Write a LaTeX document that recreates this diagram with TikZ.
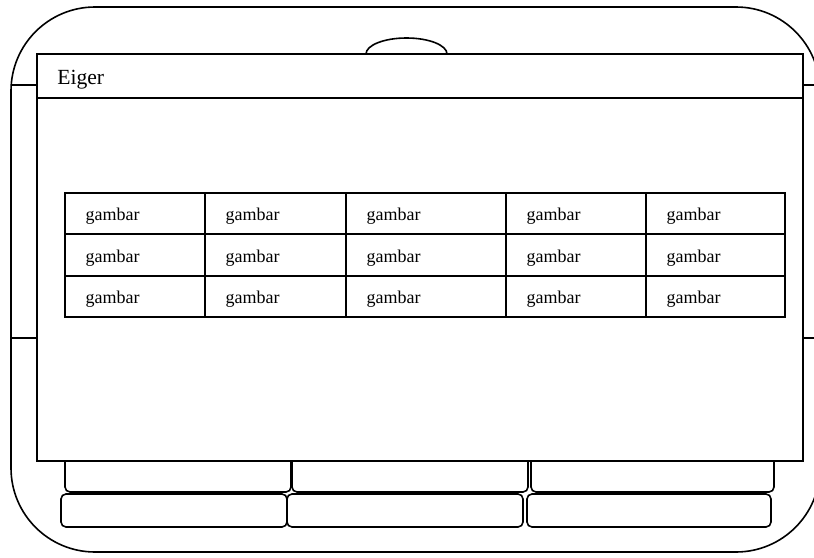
\documentclass[tikz,border=0pt]{standalone}
\usepackage{fontspec}
\setmainfont{Liberation Serif}
\usetikzlibrary{positioning}
\tikzstyle{frame} = [
    line width=0.8pt,
    rounded corners=42pt
]
\tikzstyle{window} = [
    rectangle,
    anchor=north west,
    inner sep=0pt,
    outer sep=0pt,
    minimum width=383pt,
    draw=black,
    fill=white,
    line width=1pt
]
\tikzstyle{cell} = [
    rectangle,
    minimum height=20.67pt,
    inner xsep=10.3pt,
    inner ysep=0pt,
    outer sep=0pt,
    text height=9pt,
    text depth=1.9pt,
    align=left,
    font=\fontsize{9}{10}\selectfont,
    draw=black,
    line width=0.9pt
]
\tikzstyle{tab} = [
    rectangle,
    rounded corners=2.5pt,
    anchor=north west,
    inner sep=0pt,
    outer sep=0pt,
    draw=black,
    line width=0.8pt
]
\tikzstyle{edge} = [line width=0.8pt]

\begin{document}
\begin{tikzpicture}[x=0.5pt, y=-0.5pt]

\useasboundingbox (0,0) rectangle (814,557);
\clip (0,0) rectangle (814,557);

% body of the device
\draw [frame] (11,7) rectangle (820,552);
\draw [edge] (366,54) arc[start angle=180, end angle=0, x radius=20.25pt, y radius=8pt];
\draw [edge] (11,85) -- (37,85);
\draw [edge] (11,338) -- (37,338);
\draw [edge] (803,85) -- (814,85);
\draw [edge] (803,338) -- (814,338);

% tabs under the window
\node (tab1) [tab, minimum width=113pt, minimum height=20.5pt] at (65,451) {};
\node (tab2) [tab, minimum width=118pt, minimum height=20.5pt] at (292,451) {};
\node (tab3) [tab, minimum width=121.5pt, minimum height=20.5pt] at (531,451) {};

\node (btn1) [tab, minimum width=113pt, minimum height=16.5pt] at (61,494) {};
\node (btn2) [tab, minimum width=118pt, minimum height=16.5pt] at (287,494) {};
\node (btn3) [tab, minimum width=122pt, minimum height=16.5pt] at (527,494) {};

% window
\node (win) [window, minimum height=203.5pt] at (37,54) {};
\node (titlebar) [window, minimum height=22pt] at (37,54) {};
\node (title) [anchor=base west, inner sep=0pt, font=\fontsize{10.8}{12}\selectfont]
at (57,84) {Eiger};

% grid of pictures
\node (r1c1) [cell, anchor=north west, text width=49.4pt] at (65,193) {gambar};
\node (r1c2) [cell, right=0pt of r1c1, text width=49.9pt] {gambar};
\node (r1c3) [cell, right=0pt of r1c2, text width=59.4pt] {gambar};
\node (r1c4) [cell, right=0pt of r1c3, text width=49.4pt] {gambar};
\node (r1c5) [cell, right=0pt of r1c4, text width=48.9pt] {gambar};

\node (r2c1) [cell, below=0pt of r1c1, text width=49.4pt] {gambar};
\node (r2c2) [cell, right=0pt of r2c1, text width=49.9pt] {gambar};
\node (r2c3) [cell, right=0pt of r2c2, text width=59.4pt] {gambar};
\node (r2c4) [cell, right=0pt of r2c3, text width=49.4pt] {gambar};
\node (r2c5) [cell, right=0pt of r2c4, text width=48.9pt] {gambar};

\node (r3c1) [cell, below=0pt of r2c1, text width=49.4pt] {gambar};
\node (r3c2) [cell, right=0pt of r3c1, text width=49.9pt] {gambar};
\node (r3c3) [cell, right=0pt of r3c2, text width=59.4pt] {gambar};
\node (r3c4) [cell, right=0pt of r3c3, text width=49.4pt] {gambar};
\node (r3c5) [cell, right=0pt of r3c4, text width=48.9pt] {gambar};

\end{tikzpicture}
\end{document}
